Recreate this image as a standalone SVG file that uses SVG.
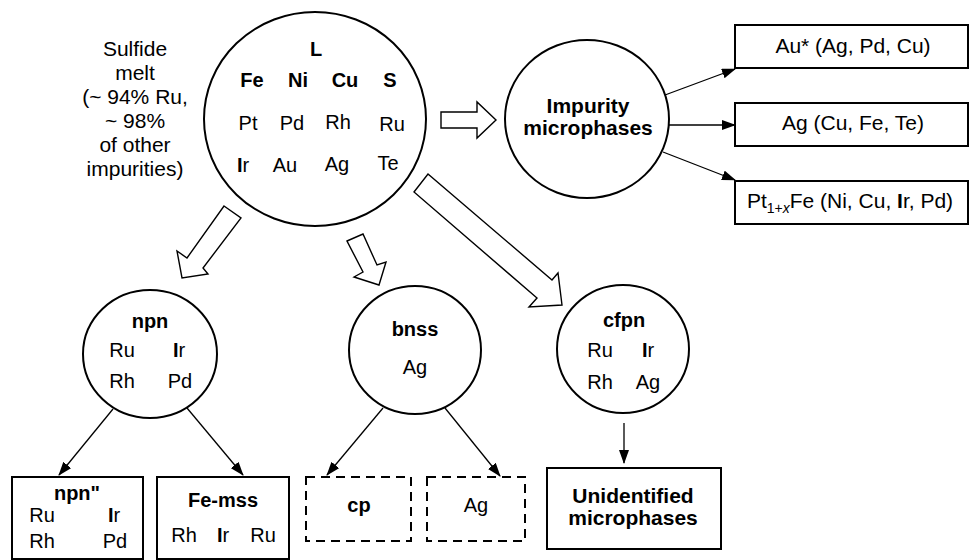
<svg xmlns="http://www.w3.org/2000/svg" width="970" height="560" viewBox="0 0 970 560">
  <defs>
    <marker id="head" markerWidth="14" markerHeight="10" refX="13" refY="5" orient="auto" markerUnits="userSpaceOnUse">
      <path d="M0,0 L14,5 L0,10 z" fill="#000"/>
    </marker>
    <style>
      text { font-family: "Liberation Sans", Arial, sans-serif; font-size: 20px; fill: #000; text-anchor: middle; }
      .b { font-weight: bold; }
      .lg { font-size: 21px; }
      .node { fill: #fff; stroke: #000; stroke-width: 2; }
      .dash { fill: #fff; stroke: #000; stroke-width: 2; stroke-dasharray: 9 6; }
      .link { fill: none; stroke: #000; stroke-width: 1.3; marker-end: url(#head); }
      .fat { fill: #fff; stroke: #000; stroke-width: 1.4; stroke-linejoin: miter; }
    </style>
  </defs>

  <rect width="970" height="560" fill="#fff"/>

  <!-- side caption for the melt -->
  <g id="caption">
    <text x="135" y="56" class="lg">Sulfide</text>
    <text x="135" y="80" class="lg">melt</text>
    <text x="135" y="104" class="lg">(~ 94% Ru,</text>
    <text x="135" y="128" class="lg">~ 98%</text>
    <text x="135" y="152" class="lg">of other</text>
    <text x="135" y="176" class="lg">impurities)</text>
  </g>

  <!-- connectors: hollow block arrows and thin arrows -->
  <g id="connectors">
    <polygon class="fat" points="441,112 477,112 477,102 496,120 477,138 477,128 441,128"/>
    <polygon class="fat" points="224,206 241,218 203,268 208,274 182,278 177,251 187,258"/>
    <polygon class="fat" points="347,241 363,234 377,265 386,262 379,285 354,277 363,272"/>
    <polygon class="fat" points="414,192 428,174 552,280 558,273 562,305 529,307 537,298"/>

    <line class="link" x1="665" y1="95" x2="735" y2="69"/>
    <line class="link" x1="668" y1="125" x2="735" y2="125"/>
    <line class="link" x1="663" y1="152" x2="735" y2="180"/>

    <line class="link" x1="113" y1="409" x2="59" y2="475"/>
    <line class="link" x1="187" y1="408" x2="243" y2="475"/>
    <line class="link" x1="383" y1="408" x2="327" y2="475"/>
    <line class="link" x1="445" y1="408" x2="500" y2="476"/>
    <line class="link" x1="624" y1="423" x2="624" y2="463"/>
  </g>

  <!-- sulfide melt L -->
  <g id="melt">
    <ellipse class="node" cx="315" cy="119" rx="111" ry="107"/>
    <text x="316" y="56" class="b">L</text>
    <text x="252" y="87" class="b">Fe</text>
    <text x="298" y="87" class="b">Ni</text>
    <text x="345" y="87" class="b">Cu</text>
    <text x="390" y="87" class="b">S</text>
    <text x="248" y="130">Pt</text>
    <text x="292" y="130">Pd</text>
    <text x="338" y="129">Rh</text>
    <text x="392" y="131">Ru</text>
    <text x="243" y="172"><tspan class="b">I</tspan>r</text>
    <text x="285" y="172">Au</text>
    <text x="337" y="171">Ag</text>
    <text x="388" y="170">Te</text>
  </g>

  <g id="impurity">
    <ellipse class="node" cx="587" cy="119" rx="82" ry="79"/>
    <text x="588" y="113" class="b lg">Impurity</text>
    <text x="588" y="135" class="b lg">microphases</text>
  </g>

  <g id="au">
    <rect class="node" x="735" y="25" width="233" height="43"/>
    <text x="853" y="53" class="lg">Au* (Ag, Pd, Cu)</text>
  </g>
  <g id="ag">
    <rect class="node" x="735" y="103" width="233" height="43"/>
    <text x="853" y="130" class="lg">Ag (Cu, Fe, Te)</text>
  </g>
  <g id="pt">
    <rect class="node" x="735" y="181" width="233" height="43"/>
    <text x="850" y="208" class="lg">Pt<tspan font-size="14" dy="5">1+<tspan font-style="italic">x</tspan></tspan><tspan dy="-5">Fe (Ni, Cu, </tspan><tspan class="b">I</tspan>r, Pd)</text>
  </g>

  <g id="npn">
    <ellipse class="node" cx="150" cy="354" rx="67" ry="64"/>
    <text x="150" y="328" class="b">npn</text>
    <text x="122" y="357">Ru</text>
    <text x="179" y="357"><tspan class="b">I</tspan>r</text>
    <text x="122" y="388">Rh</text>
    <text x="180" y="388">Pd</text>
  </g>

  <g id="bnss">
    <ellipse class="node" cx="415" cy="350" rx="66" ry="64"/>
    <text x="415" y="336" class="b">bnss</text>
    <text x="415" y="374">Ag</text>
  </g>

  <g id="cfpn">
    <ellipse class="node" cx="623" cy="349" rx="66" ry="64"/>
    <text x="624" y="327" class="b">cfpn</text>
    <text x="600" y="357">Ru</text>
    <text x="648" y="357"><tspan class="b">I</tspan>r</text>
    <text x="600" y="389">Rh</text>
    <text x="648" y="389">Ag</text>
  </g>

  <g id="npn2">
    <rect class="node" x="12" y="477" width="131" height="82"/>
    <text x="77" y="500" class="b">npn"</text>
    <text x="42" y="522">Ru</text>
    <text x="114" y="522"><tspan class="b">I</tspan>r</text>
    <text x="42" y="548">Rh</text>
    <text x="115" y="548">Pd</text>
  </g>

  <g id="femss">
    <rect class="node" x="157" y="477" width="132" height="82"/>
    <text x="223" y="507" class="b">Fe-mss</text>
    <text x="184" y="542">Rh</text>
    <text x="223" y="542"><tspan class="b">I</tspan>r</text>
    <text x="263" y="542">Ru</text>
  </g>

  <g id="cp">
    <rect class="dash" x="306" y="477" width="105" height="64"/>
    <text x="359" y="512" class="b">cp</text>
  </g>

  <g id="ag2">
    <rect class="dash" x="427" y="477" width="98" height="64"/>
    <text x="476" y="512">Ag</text>
  </g>

  <g id="unidentified">
    <rect class="node" x="547" y="468" width="174" height="81"/>
    <text x="633" y="503" class="b lg">Unidentified</text>
    <text x="633" y="525" class="b lg">microphases</text>
  </g>
</svg>
